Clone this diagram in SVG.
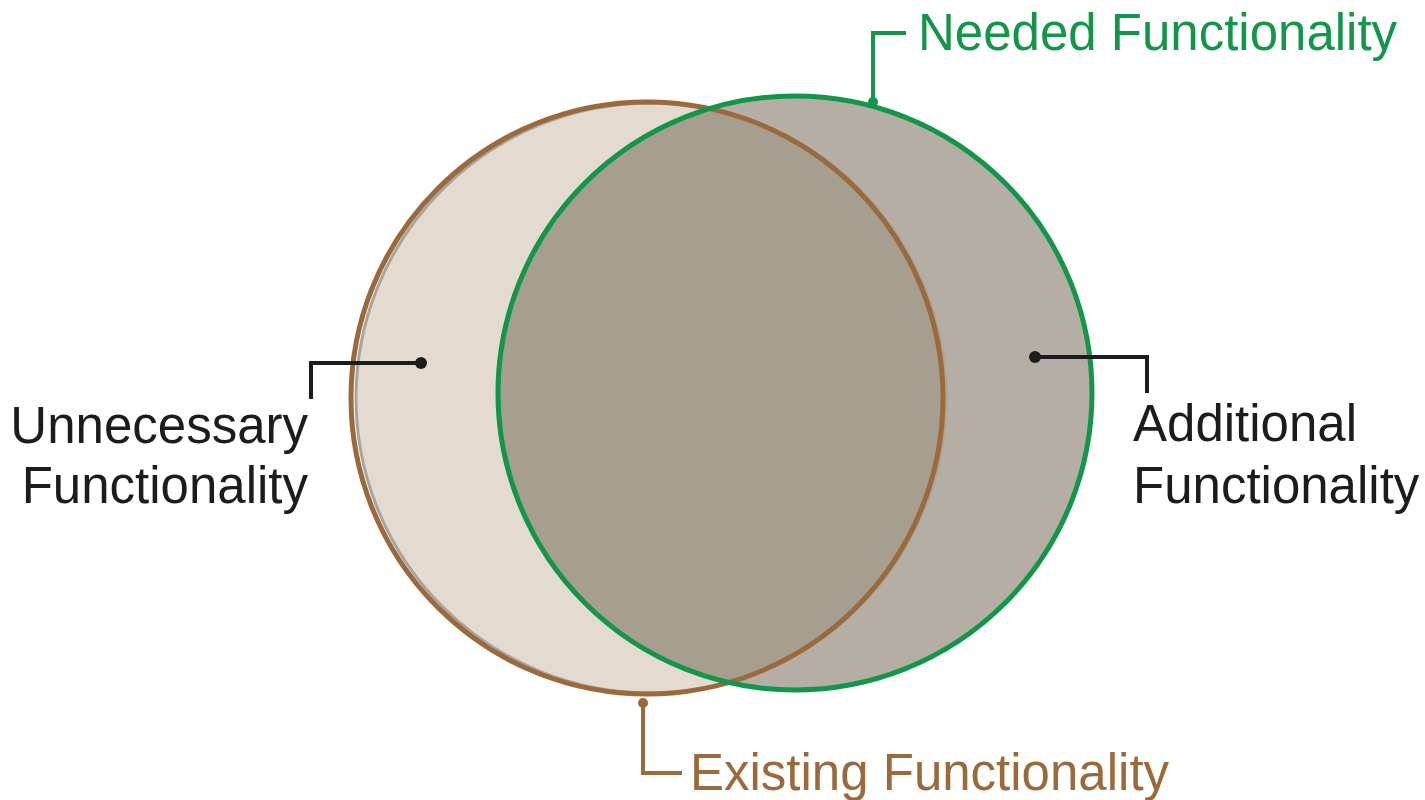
<svg xmlns="http://www.w3.org/2000/svg" width="1425" height="800" viewBox="0 0 1425 800">
<style>
.lbl{font-family:"Liberation Sans",Arial,sans-serif;font-size:51px}
.blk{fill:#1c1c1c}
.grn{fill:#13964a}
.brn{fill:#9b6a3c}
.lk{fill:none;stroke:#1c1c1c;stroke-width:4}
.lg{fill:none;stroke:#13964a;stroke-width:4}
.lb{fill:none;stroke:#9b6a3c;stroke-width:4}
</style>
<defs>
<clipPath id="clipG"><circle cx="795" cy="393" r="297"/></clipPath>
</defs>
<rect width="1425" height="800" fill="#ffffff"/>
<g id="existing-fill">
<circle cx="651" cy="398" r="295" fill="#e3dbcf" stroke="#a9a49c" stroke-width="3"/>
</g>
<g id="needed-fill">
<circle cx="795" cy="393" r="297" fill="#b4aea4"/>
</g>
<g id="overlap">
<circle cx="651" cy="398" r="295" fill="#a69e8f" stroke="#a9a49c" stroke-width="3" clip-path="url(#clipG)"/>
</g>
<g id="existing-circle">
<circle cx="647" cy="398" r="296" fill="none" stroke="#9b6a3c" stroke-width="5"/>
</g>
<g id="needed-circle">
<circle cx="795" cy="393" r="297" fill="none" stroke="#13964a" stroke-width="5"/>
</g>
<g id="connectors">
<polyline class="lg" points="873,102 873,33 906,33"/>
<circle cx="873" cy="102" r="5" fill="#13964a"/>
<polyline class="lb" points="643,703 643,773 682,773"/>
<circle cx="643" cy="703" r="5" fill="#9b6a3c"/>
<polyline class="lk" points="421,363 311,363 311,399"/>
<circle cx="421" cy="363" r="6" fill="#1c1c1c"/>
<polyline class="lk" points="1035,357 1147,357 1147,393"/>
<circle cx="1035" cy="357" r="6" fill="#1c1c1c"/>
</g>
<g id="label-needed">
<text class="lbl grn" x="918" y="50">Needed Functionality</text>
</g>
<g id="label-existing">
<text class="lbl brn" x="690" y="790">Existing Functionality</text>
</g>
<g id="label-unnecessary">
<text class="lbl blk" x="308" y="443" text-anchor="end">Unnecessary</text>
<text class="lbl blk" x="308" y="503" text-anchor="end">Functionality</text>
</g>
<g id="label-additional">
<text class="lbl blk" x="1133" y="441">Additional</text>
<text class="lbl blk" x="1133" y="503">Functionality</text>
</g>
</svg>
